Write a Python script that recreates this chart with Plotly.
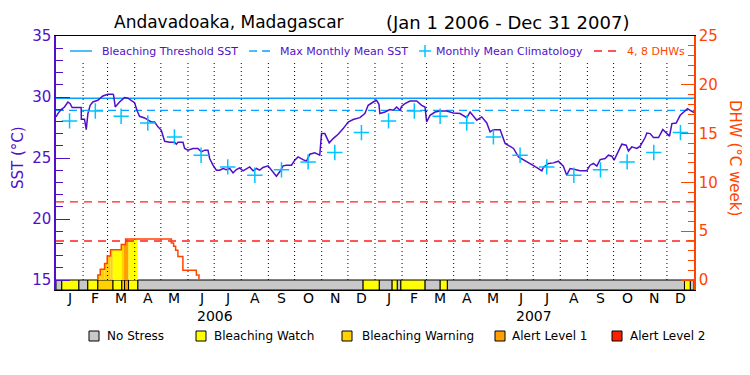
import pandas as pd
import plotly.graph_objects as go

# ---------------- data ----------------
START = pd.Timestamp("2006-01-01")
END = pd.Timestamp("2008-01-01")

# SST (deg C): day offsets from Jan 1 2006 and values
sst_days = [0, 2.1, 5.9, 9.7, 13.6, 16.2, 18.5, 28.8, 29.0, 32.6, 34.6, 36.5, 39.1, 42.2, 47.9,
            53.6, 59.4, 65.1, 65.9, 67.8, 72.7, 78.4, 82.3, 86.1, 89.9, 92.6, 95.6, 101.4, 105.2,
            109, 112.8, 116.7, 120.5, 122.4, 124.3, 130, 135.8, 137.7, 139.6, 145.3, 147.2, 151,
            156.7, 162.4, 166.3, 170.1, 173.9, 175.8, 179.6, 183.5, 187.3, 191.1, 194.9, 198.7,
            202.6, 206.4, 210.2, 214, 217.8, 221.6, 225.5, 229.3, 233.1, 236.9, 242.6, 246.5,
            252.2, 256, 259.8, 263.6, 269.4, 273.2, 277, 282.7, 286.6, 290.4, 296.1, 301.8,
            303.8, 307.6, 312.6, 317.1, 322.8, 328.6, 334.3, 340, 347.7, 353.4, 357.2, 363,
            366.8, 369.5, 370.6, 376.4, 382.1, 385.9, 389.7, 393.6, 395.5, 399.3, 405, 412.7,
            418.4, 422.2, 424.1, 428, 433.7, 439.4, 447, 454.7, 462.3, 470, 473.8, 481.4, 487.1,
            492.9, 496.7, 500.5, 508.2, 513.9, 519.6, 523.5, 529.2, 534.9, 542.6, 550.2, 555.9,
            557.6, 563.4, 569.1, 574.8, 580.5, 584.4, 588.2, 593.9, 599.6, 607.3, 611.1, 614.9,
            618.8, 622.6, 628.3, 632.1, 636, 638.6, 643.6, 647.4, 652.4, 655, 658.8, 664.6,
            668.4, 674.1, 676, 679.8, 683.6, 689.4, 694.3, 698.2, 702, 704.7, 709.6, 714.2,
            718, 722.6, 725.7, 730]
sst_vals = [28.36, 28.64, 28.97, 29.18, 29.59, 29.45, 29.13, 29.13, 28.18, 28.18, 27.33, 28.64,
            29.32, 29.59, 29.73, 30.08, 30.22, 30.22, 30.15, 29.18, 29.59, 29.95, 29.9, 29.73,
            29.54, 28.91, 28.42, 28.28, 28.14, 27.95, 27.95, 27.55, 27.27, 26.87, 26.37, 26.29,
            26.29, 26.13, 26.29, 26.29, 25.78, 25.64, 25.78, 25.78, 25.5, 25.64, 25.64, 24.96,
            24.41, 24.0, 24.0, 24.14, 24.05, 24.14, 23.78, 24.05, 24.19, 23.95, 24.14, 24.27,
            23.95, 24.14, 24.0, 24.22, 24.36, 24.0, 23.51, 23.87, 24.36, 24.41, 24.41, 24.82,
            25.09, 24.87, 24.74, 25.31, 25.42, 25.23, 27.0, 27.0, 26.24, 26.59, 26.95, 27.41,
            27.95, 28.15, 28.31, 28.64, 29.32, 29.59, 29.73, 29.4, 28.64, 28.77, 28.97, 28.91,
            29.18, 28.91, 29.24, 29.45, 29.67, 29.67, 29.32, 29.18, 27.95, 28.5, 28.77, 28.85,
            28.85, 28.69, 28.64, 28.31, 28.77, 28.1, 28.37, 27.87, 27.14, 27.32, 27.32, 26.19,
            25.97, 25.78, 25.09, 24.87, 24.55, 24.22, 23.95, 24.22, 24.55, 24.6, 24.74, 24.33,
            23.59, 24.14, 24.06, 23.95, 23.95, 24.41, 24.55, 24.33, 24.87, 24.96, 25.23, 25.15,
            24.82, 25.58, 26.13, 26.05, 25.58, 25.91, 25.78, 25.97, 26.68, 27.05, 27.0, 26.68,
            26.68, 27.33, 27.05, 26.79, 27.82, 27.87, 28.5, 28.73, 29.05, 28.91, 28.73]

# monthly mean climatology (Jan..Dec), shown for both years
clim_vals = [28.04, 28.85, 28.42, 27.87, 26.73, 25.23, 24.27, 23.59, 24.03, 24.68, 25.45, 27.08]
years = [2006, 2007]

threshold_sst = 29.9
mmm_sst = 28.9
dhw_levels = [4, 8]

# Degree heating weeks (step series)
dhw_days = [47.9, 47.9, 50.6, 55.6, 58.6, 62.4, 74.7, 79.6, 132, 134.6, 136.9, 139.5, 145.2,
            160.6, 163.6]
dhw_vals = [0, 0.5, 1.1, 1.7, 2.45, 3.1, 3.65, 4.2, 3.8, 3.45, 3.05, 2.4, 1.0, 0.5, 0]

# Bleaching alert status: segment start day and level (0..4); last segment ends at END
status_start = [0, 6.6, 26, 36.4, 47.9, 65, 75.3, 78.4, 83, 93.5, 351.4, 369.8, 384.6, 390.4,
                394.6, 422.1, 439.6, 447.7, 719.1, 725.7]
status_level = [0, 1, 0, 1, 2, 1, 2, 3, 1, 0, 1, 0, 1, 0, 1, 0, 1, 0, 1, 0]
status_names = ["No Stress", "Bleaching Watch", "Bleaching Warning", "Alert Level 1", "Alert Level 2"]
status_colors = ["#c8c8c8", "#ffff00", "#ffd200", "#ffa000", "#ff2000"]

month_letters = ["J", "F", "M", "A", "M", "J", "J", "A", "S", "O", "N", "D"]

legend_labels = ["Bleaching Threshold SST", "Max Monthly Mean SST", "Monthly Mean Climatology",
                 "4, 8 DHWs"]

# ---------------- styling / layout ----------------
PURPLE = "#5010c8"
ORANGE = "#ff4400"
BLUE = "#0aa0ff"
CYAN = "#00c4ff"
RED = "#ff1e1e"
FONT = "DejaVu Sans"

OFF = 8                     # page offset of the figure inside the browser window
W, H = 750, 375
ML, MT = 56 - OFF, 36 - OFF
PW, PH = 638, 254
MR, MB = W - ML - PW, H - MT - PH

Y_MIN, Y_MAX = 15, 35
D_MIN, D_MAX = 0, 25
BAR_FRAC = 10 / 244  # status bar height relative to the 15..35 span
YL_RANGE = [Y_MIN - (Y_MAX - Y_MIN) * BAR_FRAC, Y_MAX]
YR_RANGE = [D_MIN - (D_MAX - D_MIN) * BAR_FRAC, D_MAX]

# legend layout (screen pixel positions)
TOP_LEG_Y = 51
TOP_LEG_BOTTOM = 62
TOP_LEG_SAMPLE = [(70, 92), (249, 273), (419, 431), (594, 619)]
TOP_LEG_TEXT_X = [100, 278, 434, 625]
BOT_LEG_Y = 336
BOT_LEG_BOX_X = [89, 196, 342, 495, 612]
BOT_LEG_TEXT_X = [105, 212, 360, 510, 628]


def px_x(x):
    return (x - OFF - ML) / PW


def px_y(y):
    return (MT + PH - (y - OFF)) / PH


def paper_to_y2(p):
    return YR_RANGE[0] + p * (YR_RANGE[1] - YR_RANGE[0])


def to_date(d):
    return START + pd.to_timedelta(d, unit="D")


DAY_MS = 86400000.0

fig = go.Figure()

# status bar
seg_end = status_start[1:] + [(END - START).days]
for lvl, name in enumerate(status_names):
    xs, ws = [], []
    for s, e, l in zip(status_start, seg_end, status_level):
        if l == lvl:
            xs.append(to_date((s + e) / 2))
            ws.append((e - s) * DAY_MS)
    if not xs:
        continue
    fig.add_trace(go.Bar(
        x=xs, y=[Y_MIN - YL_RANGE[0]] * len(xs), base=YL_RANGE[0], width=ws,
        marker=dict(color=status_colors[lvl], line=dict(color="black", width=1)),
        name=name, showlegend=False, hoverinfo="skip"))


def dhw_at(t):
    v = 0
    for d, val in zip(dhw_days, dhw_vals):
        if d <= t:
            v = val
    return v


# DHW fill coloured by alert status
fx, fw, fy, fc = [], [], [], []
for s, e, l in zip(status_start, seg_end, status_level):
    if l == 0:
        continue
    pts = [s] + [d for d in dhw_days if s < d < e] + [e]
    for a, b in zip(pts[:-1], pts[1:]):
        v = dhw_at(a)
        if v > 0 and b > a:
            fx.append(to_date((a + b) / 2))
            fw.append((b - a) * DAY_MS)
            fy.append(v)
            fc.append(status_colors[l])
fig.add_trace(go.Bar(x=fx, y=fy, width=fw, base=0, yaxis="y2",
                     marker=dict(color=fc, line=dict(width=0)), showlegend=False, hoverinfo="skip"))

# month boundaries / mid-month label positions
mid_months, month_starts, month_text = [], [], []
for yr in years:
    for m in range(12):
        a = pd.Timestamp(yr, m + 1, 1)
        b = pd.Timestamp(yr + (m == 11), (m + 1) % 12 + 1, 1)
        mid_months.append(a + (b - a) / 2)
        month_text.append(month_letters[m])
        if a != START:
            month_starts.append(a)

# dotted month-boundary lines (from the status bar up to the legend band)
gx, gy = [], []
g_top = paper_to_y2(px_y(TOP_LEG_BOTTOM))
for d in month_starts:
    gx += [d, d, None]
    gy += [D_MIN, g_top, None]
fig.add_trace(go.Scatter(x=gx, y=gy, yaxis="y2", mode="lines", showlegend=False, hoverinfo="skip",
                         line=dict(color="black", width=1, dash="1px,3px")))

# horizontal reference lines
x_full = [START, END]
fig.add_trace(go.Scatter(x=x_full, y=[threshold_sst] * 2, mode="lines", showlegend=False,
                         line=dict(color=BLUE, width=1.4), name=legend_labels[0]))
fig.add_trace(go.Scatter(x=x_full, y=[mmm_sst] * 2, mode="lines", showlegend=False,
                         line=dict(color=BLUE, width=1.4, dash="8px,5px"), name=legend_labels[1]))

# SST
fig.add_trace(go.Scatter(x=[to_date(d) for d in sst_days], y=sst_vals, mode="lines",
                         line=dict(color=PURPLE, width=1.5), showlegend=False, hoverinfo="skip"))

# climatology crosses at mid-month
cx, cy = [], []
for yr in years:
    for m in range(12):
        a = pd.Timestamp(yr, m + 1, 1)
        b = pd.Timestamp(yr + (m == 11), (m + 1) % 12 + 1, 1)
        cx.append(a + (b - a) / 2)
        cy.append(clim_vals[m])
fig.add_trace(go.Scatter(x=cx, y=cy, mode="markers", name=legend_labels[2], showlegend=False,
                         marker=dict(symbol="cross-thin", size=11, line=dict(color=CYAN, width=1.5))))

# DHW threshold lines
lx, ly = [], []
for lv in dhw_levels:
    lx += [START, END, None]
    ly += [lv, lv, None]
fig.add_trace(go.Scatter(x=lx, y=ly, yaxis="y2", mode="lines", showlegend=False,
                         line=dict(color=RED, width=1.4, dash="8px,6px"), name=legend_labels[3]))

# DHW step line
fig.add_trace(go.Scatter(x=[to_date(d) for d in dhw_days], y=dhw_vals, yaxis="y2", mode="lines",
                         line=dict(color=ORANGE, width=1.5, shape="hv"), showlegend=False))

fig.update_layout(
    width=W, height=H,
    margin=dict(l=ML, r=MR, t=MT, b=MB, autoexpand=False),
    paper_bgcolor="white", plot_bgcolor="white",
    barmode="overlay", showlegend=False,
    font=dict(family=FONT, size=13, color="black"),
    xaxis=dict(type="date", range=[START, END], tickmode="array", tickvals=mid_months,
               ticktext=month_text, ticks="", showticklabels=False, showgrid=False, zeroline=False,
               showline=True, linecolor="black", linewidth=1, mirror=True, automargin=False),
    yaxis=dict(range=YL_RANGE, tickmode="linear", tick0=Y_MIN, dtick=5, ticks="inside",
               ticklen=14, tickwidth=1.2, tickcolor=PURPLE, showgrid=False, zeroline=False,
               showline=True, linecolor=PURPLE, linewidth=1.5, automargin=False,
               tickfont=dict(size=15, color=PURPLE),
               minor=dict(tickmode="linear", tick0=Y_MIN, dtick=1, ticks="inside", ticklen=7,
                          tickcolor=PURPLE, tickwidth=1.2)),
    yaxis2=dict(range=YR_RANGE, overlaying="y", side="right", tickmode="linear", tick0=0, dtick=5,
                ticks="inside", ticklen=13, tickwidth=1.2, tickcolor=ORANGE, showgrid=False,
                zeroline=False, showline=True, linecolor=ORANGE, linewidth=1.5, automargin=False,
                tickfont=dict(size=15, color=ORANGE),
                minor=dict(tickmode="linear", tick0=0, dtick=1, ticks="inside", ticklen=6,
                           tickcolor=ORANGE, tickwidth=1.2)),
)

ann = dict(showarrow=False, xref="paper", yref="paper", xanchor="center", yanchor="middle")

# titles
fig.add_annotation(text="Andavadoaka, Madagascar", x=px_x(229), y=px_y(22), **ann,
                   font=dict(size=17, color="black"))
fig.add_annotation(text="(Jan 1 2006 - Dec 31 2007)", x=px_x(507), y=px_y(22), **ann,
                   font=dict(size=18, color="black"))
fig.add_annotation(text="SST (°C)", x=px_x(18), y=0.5 * (px_y(36) + px_y(280)), textangle=-90,
                   **ann, font=dict(size=15, color=PURPLE))
fig.add_annotation(text="DHW (°C week)", x=px_x(735), y=0.5 * (px_y(36) + px_y(280)), textangle=90,
                   **ann, font=dict(size=15, color=ORANGE))

# month and year labels along the time axis
for d, t in zip(mid_months, month_text):
    fig.add_annotation(text=t, x=d, xref="x", y=px_y(298), yref="paper", showarrow=False,
                       xanchor="center", yanchor="middle", font=dict(size=14, color="black"))
for yr in years:
    fig.add_annotation(text=str(yr), x=pd.Timestamp(yr, 7, 2), xref="x", y=px_y(316), yref="paper",
                       showarrow=False, xanchor="center", yanchor="middle",
                       font=dict(size=14, color="black"))

# top legend (inside the plot)
yl = px_y(TOP_LEG_Y)
samples = [dict(color=BLUE, dash="solid"), dict(color=BLUE, dash="8px,5px"), None,
           dict(color=RED, dash="8px,6px")]
for i, lab in enumerate(legend_labels):
    x0, x1 = TOP_LEG_SAMPLE[i]
    if samples[i] is None:
        xc = 0.5 * (x0 + x1)
        fig.add_shape(type="line", xref="paper", yref="paper", x0=px_x(x0), x1=px_x(x1), y0=yl, y1=yl,
                      line=dict(color=CYAN, width=1.5))
        fig.add_shape(type="line", xref="paper", yref="paper", x0=px_x(xc), x1=px_x(xc),
                      y0=px_y(TOP_LEG_Y - 6), y1=px_y(TOP_LEG_Y + 6), line=dict(color=CYAN, width=1.5))
    else:
        fig.add_shape(type="line", xref="paper", yref="paper", x0=px_x(x0), x1=px_x(x1), y0=yl, y1=yl,
                      line=dict(color=samples[i]["color"], width=1.4, dash=samples[i]["dash"]))
    fig.add_annotation(text=lab, x=px_x(TOP_LEG_TEXT_X[i]), y=yl, xref="paper", yref="paper",
                       showarrow=False, xanchor="left", yanchor="middle",
                       font=dict(size=11, color=ORANGE if i == 3 else PURPLE))

# bottom legend (status colours)
for i, lab in enumerate(status_names):
    fig.add_shape(type="rect", xref="paper", yref="paper",
                  x0=px_x(BOT_LEG_BOX_X[i]), x1=px_x(BOT_LEG_BOX_X[i] + 10),
                  y0=px_y(BOT_LEG_Y - 5), y1=px_y(BOT_LEG_Y + 5),
                  fillcolor=status_colors[i], line=dict(color="black", width=1))
    fig.add_annotation(text=lab, x=px_x(BOT_LEG_TEXT_X[i]), y=px_y(BOT_LEG_Y), xref="paper",
                       yref="paper", showarrow=False, xanchor="left", yanchor="middle",
                       font=dict(size=12, color="black"))

fig.write_html("out.html")
